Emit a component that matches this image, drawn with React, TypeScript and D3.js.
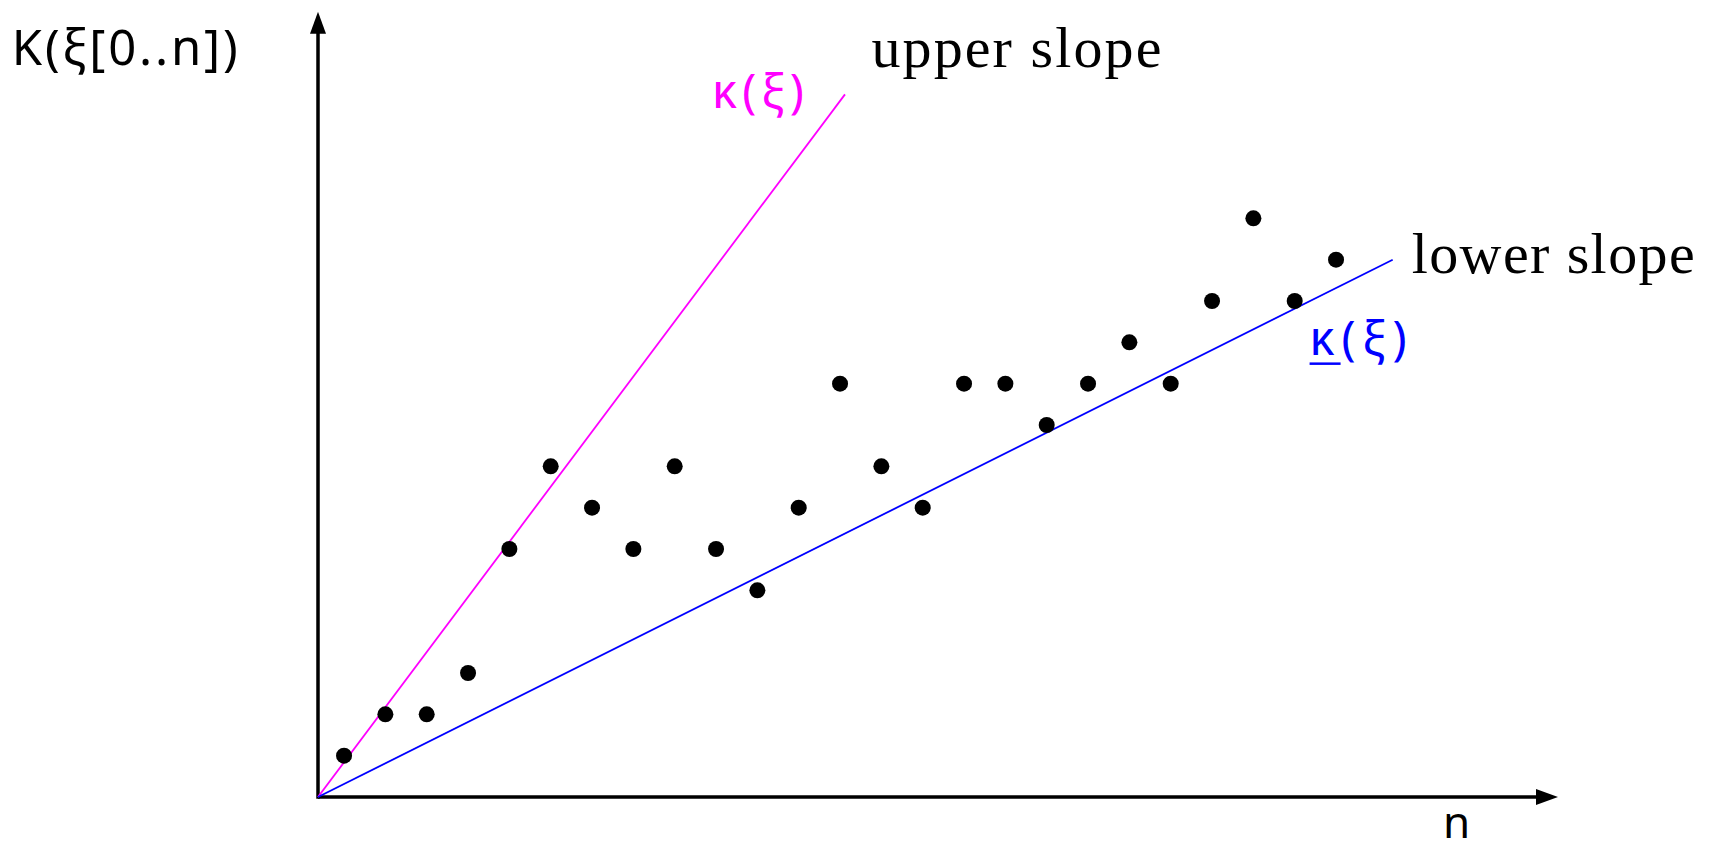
import React from 'react';
import * as d3 from 'd3';

// observations: prefix length n and complexity K(ξ[0..n])
const nValues = [1, 2, 3, 4, 5, 6, 7, 8, 9, 10, 11, 12, 13, 14, 15, 16, 17, 18, 19, 20, 21, 22, 23, 24, 25];
const kValues = [1, 2, 2, 3, 6, 8, 7, 6, 8, 6, 5, 7, 10, 8, 7, 10, 10, 9, 10, 11, 10, 12, 14, 12, 13];

// slope lines, end points in axis units (start at the origin)
const upperEnd = [12.75, 17];
const lowerEnd = [26, 13];

const W = 1709;
const H = 853;
const N0 = 0.37; // n value sitting on the vertical axis
const X_LEN = 30; // axis length in units
const Y_LEN = 19;

const MATH_FONT = '"Noto Sans", "DejaVu Sans", sans-serif';
const TEXT_FONT = '"Liberation Serif", "Times New Roman", serif';

export default function App() {
  const x = d3.scaleLinear().domain([0, X_LEN]).range([318, 1558]);
  const y = d3.scaleLinear().domain([0, Y_LEN]).range([797, 11.7]);
  const xn = (n: number) => x(n - N0);

  const line = d3.line<number[]>().x(d => x(d[0])).y(d => y(d[1]));

  const ox = x(0);
  const oy = y(0);
  const xTip = x(X_LEN);
  const yTip = y(Y_LEN);
  const ah = 22; // arrow head length
  const aw = 8; // arrow head half width

  const kappaUnderX = x(23.99);

  return (
    <svg width={W} height={H} style={{ position: 'absolute', left: 0, top: 0, background: '#fff' }}>
      {/* axes */}
      <line x1={ox} y1={oy} x2={xTip - ah + 2} y2={oy} stroke="#000" strokeWidth={3.5} />
      <path d={`M${xTip},${oy} L${xTip - ah},${oy - aw} L${xTip - ah},${oy + aw} Z`} fill="#000" />
      <line x1={ox} y1={oy + 1.75} x2={ox} y2={yTip + ah - 2} stroke="#000" strokeWidth={3.5} />
      <path d={`M${ox},${yTip} L${ox - aw},${yTip + ah} L${ox + aw},${yTip + ah} Z`} fill="#000" />

      {/* slopes */}
      <path d={line([[0, 0], upperEnd]) || ''} stroke="#ff00ff" strokeWidth={1.8} fill="none" />
      <path d={line([[0, 0], lowerEnd]) || ''} stroke="#0000ff" strokeWidth={1.8} fill="none" />

      {/* data points */}
      <g>
        {nValues.map((n, i) => (
          <circle key={n} cx={xn(n)} cy={y(kValues[i])} r={8} fill="#000" />
        ))}
      </g>

      {/* labels */}
      <text x={x(-7.41)} y={y(17.71)} fontFamily={MATH_FONT} fontSize={49} textLength={226} lengthAdjust="spacing">
        K(ξ[0..n])
      </text>
      <text x={x(13.39)} y={y(17.67)} fontFamily={TEXT_FONT} fontSize={58} textLength={290} lengthAdjust="spacing">
        upper slope
      </text>
      <text x={x(26.46)} y={y(12.67)} fontFamily={TEXT_FONT} fontSize={58} textLength={283} lengthAdjust="spacing">
        lower slope
      </text>
      <text x={x(9.53)} y={y(16.67)} fontFamily={MATH_FONT} fontSize={47} fill="#ff00ff" textLength={92} lengthAdjust="spacing">
        κ(ξ)
      </text>
      <text x={kappaUnderX} y={y(10.69)} fontFamily={MATH_FONT} fontSize={47} fill="#0000ff" textLength={97} lengthAdjust="spacing">
        κ(ξ)
      </text>
      <line x1={kappaUnderX} y1={y(10.69) + 8.5} x2={kappaUnderX + 31} y2={y(10.69) + 8.5} stroke="#0000ff" strokeWidth={2.5} />
      <text x={x(27.22)} y={y(-0.98)} fontFamily={MATH_FONT} fontSize={44}>
        n
      </text>
    </svg>
  );
}
